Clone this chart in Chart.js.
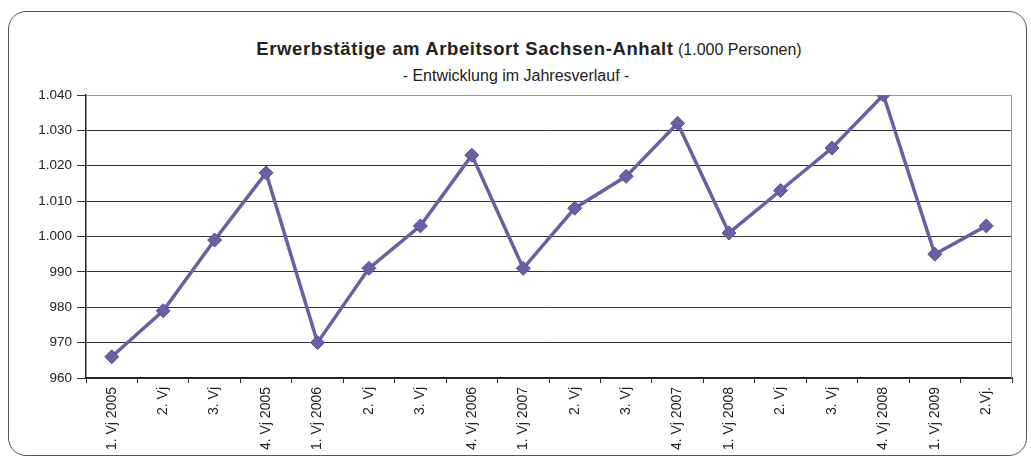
<!DOCTYPE html>
<html>
<head>
<meta charset="utf-8">
<script src="https://cdn.jsdelivr.net/npm/chart.js@4"></script>
<style>
  html, body { margin: 0; padding: 0; background: #fff; }
  #rahmen {
    position: absolute; left: 8px; top: 11px; width: 1019px; height: 445px;
    border: 1.5px solid #555; border-radius: 18px; box-sizing: border-box;
  }
  #titel {
    position: absolute; left: 0; top: 40px; width: 1058px; text-align: center;
    font-family: "Liberation Sans", Arial, sans-serif; color: #222; font-size: 16px;
    line-height: 1; white-space: nowrap;
  }
  #titel b { font-size: 18.5px; letter-spacing: 0.6px; }
  #untertitel {
    position: absolute; left: 0; top: 67.5px; width: 1032px; text-align: center;
    font-family: "Liberation Sans", Arial, sans-serif; color: #222; font-size: 16px;
    line-height: 1; white-space: nowrap;
  }
  #wrap { position: absolute; left: 0; top: 0; width: 1031px; height: 462px; }
</style>
</head>
<body>
<div id="rahmen"></div>
<div id="titel"><b>Erwerbstätige am Arbeitsort Sachsen-Anhalt</b> (1.000 Personen)</div>
<div id="untertitel">- Entwicklung im Jahresverlauf -</div>
<div id="wrap"><canvas id="chart" width="1031" height="462"></canvas></div>
<script>
// Quartale (Vierteljahre)
const quartale = [
  "1. Vj 2005", "2. Vj", "3. Vj", "4. Vj 2005",
  "1. Vj 2006", "2. Vj", "3. Vj", "4. Vj 2006",
  "1. Vj 2007", "2. Vj", "3. Vj", "4. Vj 2007",
  "1. Vj 2008", "2. Vj", "3. Vj", "4. Vj 2008",
  "1. Vj 2009", "2.Vj."
];
// Erwerbstätige in 1.000 Personen
const erwerbstaetige = [
  966, 979, 999, 1018,
  970, 991, 1003, 1023,
  991, 1008, 1017, 1032,
  1001, 1013, 1025, 1040,
  995, 1003
];
const yMin = 960, yMax = 1040, yStep = 10;

function deZahl(v) {
  // deutsches Tausendertrennzeichen
  return String(v).replace(/\B(?=(\d{3})+(?!\d))/g, ".");
}

const rahmenPlugin = {
  id: "rahmenPlugin",
  beforeDatasetsDraw(chart) {
    const { ctx, chartArea: a } = chart;
    ctx.save();
    ctx.strokeStyle = "#999";
    ctx.lineWidth = 1;
    ctx.beginPath();
    ctx.moveTo(a.left, a.top + 0.5);
    ctx.lineTo(a.right - 0.5, a.top + 0.5);
    ctx.lineTo(a.right - 0.5, a.bottom);
    ctx.stroke();
    ctx.restore();
  }
};

const farbe = "#6a5fa2";

new Chart(document.getElementById("chart").getContext("2d"), {
  type: "line",
  data: {
    labels: quartale,
    datasets: [{
      data: erwerbstaetige,
      borderColor: farbe,
      backgroundColor: farbe,
      borderWidth: 3.5,
      pointStyle: "rectRot",
      pointRadius: 7,
      pointBorderWidth: 1,
      pointBorderColor: "#5a5094",
      pointBackgroundColor: farbe,
      tension: 0
    }]
  },
  options: {
    responsive: false,
    animation: false,
    layout: { padding: { left: 0, right: 19, top: 95, bottom: 2 } },
    plugins: { legend: { display: false }, tooltip: { enabled: false }, title: { display: false } },
    scales: {
      x: {
        type: "category",
        offset: true,
        afterFit(s) { s.height = 82; },
        grid: { display: true, drawOnChartArea: false, offset: true, tickLength: 5, color: "#333" },
        border: { display: true, color: "#222", width: 1.5 },
        ticks: {
          minRotation: 90, maxRotation: 90, autoSkip: false, padding: 4,
          color: "#222", font: { family: "Liberation Sans", size: 14 }
        }
      },
      y: {
        min: yMin, max: yMax,
        afterFit(s) { s.width = 86; },
        grid: {
          color: (c) => c.tick && c.tick.value === yMax ? "rgba(0,0,0,0)" : "#333",
          lineWidth: 1, tickLength: 9, drawTicks: true,
          tickColor: "#333"
        },
        border: { display: true, color: "#222", width: 1.5 },
        ticks: {
          stepSize: yStep, padding: 5,
          color: "#222", font: { family: "Liberation Sans", size: 13.5 },
          callback: (v) => deZahl(v)
        }
      }
    }
  },
  plugins: [rahmenPlugin]
});
</script>
</body>
</html>
